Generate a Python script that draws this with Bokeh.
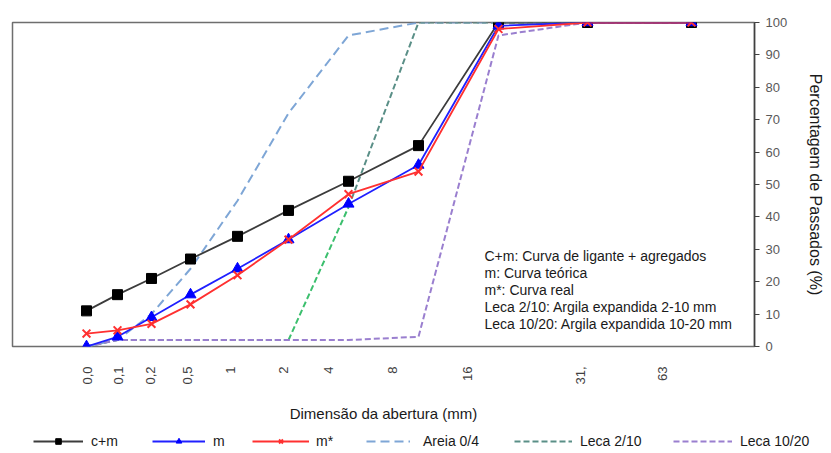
import math
from bokeh.plotting import figure
from bokeh.models import Range1d, FixedTicker, Legend, LegendItem, Label
from bokeh.embed import file_html
from bokeh.resources import INLINE

# ---- data ----
sieve_labels = ["0,0", "0,1", "0,2", "0,5", "1", "2", "4", "8", "16", "31,", "63"]
label_pos = [75, 106, 138, 175, 218, 271, 316, 380, 455, 568, 650]
point_pos = [74, 105, 139, 178, 225, 276, 336, 406, 486, 575, 679]
c_m = [11, 16, 21, 27, 34, 42, 51, 62, 100, 100, 100]
m = [0, 3, 9, 16, 24, 33, 44, 56, 99, 100, 100]
m_star = [4, 5, 7, 13, 22, 33, 47, 54, 98, 100, 100]
areia_0_4 = [0, 2, 10, 24, 45, 72, 96, 100, 100, 100, 100]
leca_2_10 = [0, 2, 2, 2, 2, 2, 43, 100, 100, 100, 100]
leca_10_20 = [0, 2, 2, 2, 2, 2, 2, 3, 96, 100, 100]
series_names = ["c+m", "m", "m*", "Areia 0/4", "Leca 2/10", "Leca 10/20"]
notes = ["C+m: Curva de ligante + agregados",
         "m: Curva teórica",
         "m*: Curva real",
         "Leca 2/10: Argila expandida 2-10 mm",
         "Leca 10/20: Argila expandida 10-20 mm"]

FONT = "Liberation Sans"

# styles
S_CM = dict(line_color="#3c3c3c", line_width=1.8)
S_M = dict(line_color="#2020ff", line_width=1.8)
S_MS = dict(line_color="#ff3030", line_width=1.8)
S_AR = dict(line_color="#7ea6d6", line_width=2, line_dash="9 5")
S_L1 = dict(line_color="#5a8f87", line_width=2, line_dash="6 3")
S_L2 = dict(line_color="#9a7fcf", line_width=2, line_dash="6 3")
M_CM = dict(marker="square", size=10, fill_color="black", line_color="black")
M_M = dict(marker="triangle", size=11, fill_color="#0000ff", line_color="#0000ff")
M_MS = dict(marker="x", size=11, line_color="#ff3030", line_width=2)


def draw_series(fig):
    out = []
    out.append([fig.line(point_pos, c_m, **S_CM), fig.scatter(point_pos, c_m, **M_CM)])
    out.append([fig.line(point_pos, m, **S_M), fig.scatter(point_pos, m, **M_M)])
    out.append([fig.line(point_pos, m_star, **S_MS), fig.scatter(point_pos, m_star, **M_MS)])
    return out


p = figure(frame_width=742, frame_height=324, x_range=Range1d(0, 742), y_range=Range1d(0, 100),
           y_axis_location="right", output_backend="svg", toolbar_location=None,
           min_border_left=12, min_border_top=22, min_border_right=77, min_border_bottom=79)
p.xgrid.visible = False
p.ygrid.visible = False
p.outline_line_color = "#6e6e6e"
p.outline_line_width = 1.5

# dashed material curves
p.line(point_pos, areia_0_4, **S_AR)
p.line(point_pos[:6], leca_2_10[:6], **S_L1)
p.line(point_pos[6:], leca_2_10[6:], **S_L1)
p.line(point_pos[5:7], leca_2_10[5:7], line_color="#3cbf6e", line_width=2, line_dash="6 3")
p.line(point_pos, leca_10_20, **S_L2)
# measured curves
draw_series(p)

# x axis
xa = p.xaxis[0]
xa.ticker = FixedTicker(ticks=label_pos)
xa.major_label_overrides = {pos: lab for pos, lab in zip(label_pos, sieve_labels)}
xa.major_label_orientation = math.pi / 2
xa.major_tick_line_color = None
xa.minor_tick_line_color = None
xa.axis_line_color = None
xa.major_label_standoff = 14
xa.major_label_text_font = FONT
xa.major_label_text_font_size = "13px"
xa.major_label_text_color = "#404040"
xa.axis_label = "Dimensão da abertura (mm)"
xa.axis_label_text_font = FONT
xa.axis_label_text_font_size = "15px"
xa.axis_label_text_font_style = "normal"
xa.axis_label_text_color = "#1a1a1a"
xa.axis_label_standoff = 17

# y axis (right)
ya = p.yaxis[0]
ya.ticker = FixedTicker(ticks=list(range(0, 101, 10)))
ya.axis_line_color = "#404040"
ya.axis_line_width = 1.5
ya.major_tick_line_color = "#404040"
ya.major_tick_out = 5
ya.major_tick_in = 0
ya.minor_tick_line_color = None
ya.major_label_text_font = FONT
ya.major_label_text_font_size = "13px"
ya.major_label_text_color = "#595959"
ya.major_label_standoff = 6
ya.axis_label = "Percentagem de Passados (%)"
ya.axis_label_text_font = FONT
ya.axis_label_text_font_size = "16px"
ya.axis_label_text_font_style = "normal"
ya.axis_label_text_color = "#1a1a1a"
ya.axis_label_standoff = 17

# notes box
p.add_layout(Label(x=472, y=30.4, text="\n".join(notes), text_font=FONT,
                   text_font_size="14px", text_color="#1a1a1a",
                   text_align="left", text_baseline="top", text_line_height=1.07))

# legend strip: same series drawn off-view, only the legend shows
lg = figure(width=831, height=28, x_range=Range1d(0, 831), y_range=Range1d(-1000, -972),
            output_backend="svg", toolbar_location=None, min_border=0,
            x_axis_location=None, y_axis_location=None)
lg.grid.visible = False
lg.outline_line_color = None
samples = draw_series(lg)
samples.append([lg.line(point_pos, areia_0_4, **S_AR)])
samples.append([lg.line(point_pos, leca_2_10, **S_L1)])
samples.append([lg.line(point_pos, leca_10_20, **S_L2)])

line_start = [35, 154, 254, 368, 516, 675]
line_end = [85, 207, 311, 412, 574, 734]
text_start = [93, 215, 318, 425, 582, 742]
for name, rends, x0, x1, t0 in zip(series_names, samples, line_start, line_end, text_start):
    lg.add_layout(Legend(items=[LegendItem(label=name, renderers=rends)],
                         location=(x0 - 2, 4), orientation="horizontal",
                         border_line_color=None, background_fill_alpha=0,
                         label_text_font=FONT, label_text_font_size="14px",
                         label_text_color="#1a1a1a", glyph_width=x1 - x0, glyph_height=14,
                         label_height=14, label_standoff=t0 - x1, margin=0, padding=2))

open("out.html", "w").write(file_html([p, lg], INLINE))
